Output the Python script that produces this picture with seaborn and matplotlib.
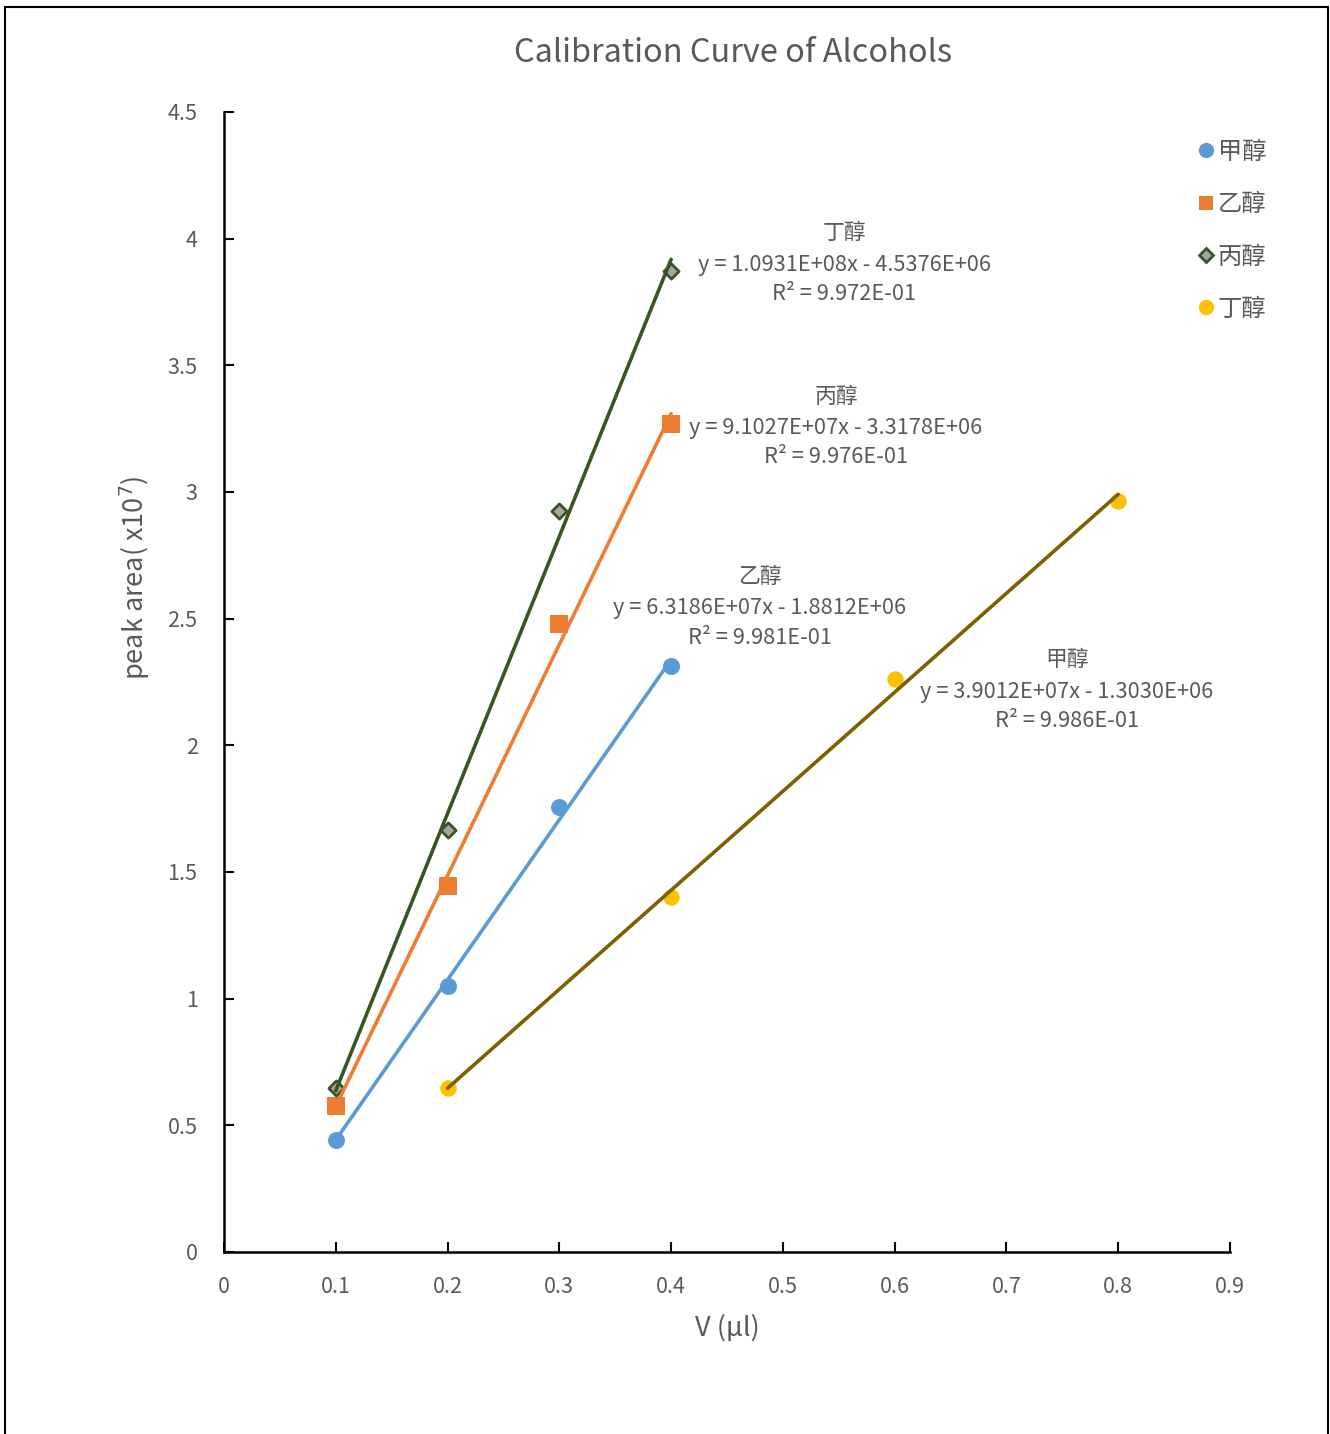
import matplotlib
matplotlib.use("Agg")
import matplotlib.pyplot as plt
from matplotlib.lines import Line2D
from matplotlib.patches import Rectangle
import seaborn as sns
import pandas as pd

# ---- data ----
series_names = ["甲醇", "乙醇", "丙醇", "丁醇"]
x_methanol = [0.1, 0.2, 0.3, 0.4]
y_methanol = [0.442, 1.050, 1.757, 2.313]
x_ethanol = [0.1, 0.2, 0.3, 0.4]
y_ethanol = [0.576, 1.445, 2.479, 3.269]
x_propanol = [0.1, 0.2, 0.3, 0.4]
y_propanol = [0.647, 1.666, 2.925, 3.873]
x_butanol = [0.2, 0.4, 0.6, 0.8]
y_butanol = [0.647, 1.401, 2.262, 2.965]

eq_labels = ["丁醇", "丙醇", "乙醇", "甲醇"]
eq_texts = ["y = 1.0931E+08x - 4.5376E+06", "y = 9.1027E+07x - 3.3178E+06",
            "y = 6.3186E+07x - 1.8812E+06", "y = 3.9012E+07x - 1.3030E+06"]
r2_texts = ["R² = 9.972E-01", "R² = 9.976E-01", "R² = 9.981E-01", "R² = 9.986E-01"]

xs = [x_methanol, x_ethanol, x_propanol, x_butanol]
ys = [y_methanol, y_ethanol, y_propanol, y_butanol]
frames = [pd.DataFrame({"x": x, "y": y, "s": n}) for x, y, n in zip(xs, ys, series_names)]

# ---- style ----
sns.set_theme(style="white")
plt.rcParams["font.family"] = ["Noto Sans CJK SC", "DejaVu Sans"]
gray = "#595959"

fig = plt.figure(figsize=(13.3, 14.34), dpi=100)
W, H = 1330, 1434
ax = fig.add_axes([224 / W, 1 - 1252 / H, (1230 - 224) / W, (1252 - 112) / H])

marker_colors = ["#5B9BD5", "#ED7D31", "#A5A5A5", "#FFC000"]
edge_colors = ["#5B9BD5", "#ED7D31", "#375623", "#FFC000"]
line_colors = ["#5B9BD5", "#ED7D31", "#375623", "#7F6000"]
markers = ["o", "s", "D", "o"]
msizes = [150, 150, 60, 140]
lws = [0, 0, 2.0, 0]

for df, mc, ec, lc, mk, ms, lw in zip(frames, marker_colors, edge_colors, line_colors, markers, msizes, lws):
    sns.scatterplot(data=df, x="x", y="y", marker=mk, color=mc, edgecolor=ec,
                    linewidth=lw, s=ms, ax=ax, legend=False, zorder=3)
    sns.regplot(data=df, x="x", y="y", scatter=False, ci=None, truncate=True,
                ax=ax, line_kws={"color": lc, "lw": 2.6, "zorder": 4})

ax.set_xlim(0, 0.9)
ax.set_ylim(0, 4.5)
ax.set_xticks([i / 10 for i in range(10)])
ax.set_xticklabels(["0", "0.1", "0.2", "0.3", "0.4", "0.5", "0.6", "0.7", "0.8", "0.9"])
ax.set_yticks([0, 0.5, 1, 1.5, 2, 2.5, 3, 3.5, 4, 4.5])
ax.set_yticklabels(["0", "0.5", "1", "1.5", "2", "2.5", "3", "3.5", "4", "4.5"])
ax.tick_params(axis="both", direction="in", length=7, width=1.5, colors="black",
               labelcolor=gray, labelsize=15.5)
ax.tick_params(axis="x", pad=17, bottom=True)
ax.tick_params(axis="y", pad=19, left=True)
for sp in ["top", "right"]:
    ax.spines[sp].set_visible(False)
for sp in ["left", "bottom"]:
    ax.spines[sp].set_color("black")
    ax.spines[sp].set_linewidth(1.8)
ax.set_xlabel("")
ax.set_ylabel("")

fig.text(727 / W, 1 - 1328 / H, "V (μl)", ha="center", va="center", fontsize=19.5, color=gray)
fig.text(135 / W, 1 - 578 / H, "peak area( x10$^{7}$)", ha="center", va="center",
         rotation=90, fontsize=19.5, color=gray)
fig.text(733 / W, 1 - 53 / H, "Calibration Curve of Alcohols", ha="center", va="center",
         fontsize=23.4, color=gray)

# equation annotations (pixel-measured centres converted to data coords)
def px2data(px, py):
    return (px - 224) / (1230 - 224) * 0.9, (1252 - py) / (1252 - 112) * 4.5

centres = [(844, 233, 265, 294), (836, 397, 428, 457), (760, 577, 608, 638), (1067, 660, 692, 721)]
for (cx, y1, y2, y3), name, eq, r2 in zip(centres, eq_labels, eq_texts, r2_texts):
    for py, t in zip((y1, y2, y3), (name, eq, r2)):
        xd, yd = px2data(cx, py)
        ax.text(xd, yd, t, ha="center", va="center", fontsize=15.7, color=gray, zorder=5)

handles = []
for mc, ec, mk, n, lw in zip(marker_colors, edge_colors, markers, series_names, lws):
    ms = 11 if mk == "o" else (10 if mk == "s" else 7.5)
    handles.append(Line2D([], [], linestyle="none", marker=mk, markersize=ms,
                          markerfacecolor=mc, markeredgecolor=ec, markeredgewidth=lw if lw else 0,
                          label=n))
leg = fig.legend(handles=handles, loc="upper left", bbox_to_anchor=(1191 / W, 1 - 139 / H),
                 frameon=False, fontsize=17.5, labelspacing=1.08, handletextpad=-0.1,
                 handlelength=1.2, labelcolor=gray, borderaxespad=0, borderpad=0)

# outer chart frame
fig.patches.append(Rectangle((5 / W, -0.01), (1328 - 5) / W, 1 - 7 / H + 0.01,
                             transform=fig.transFigure, fill=False, edgecolor="black",
                             linewidth=1.5, zorder=0))

fig.savefig("out.png", dpi=100)
